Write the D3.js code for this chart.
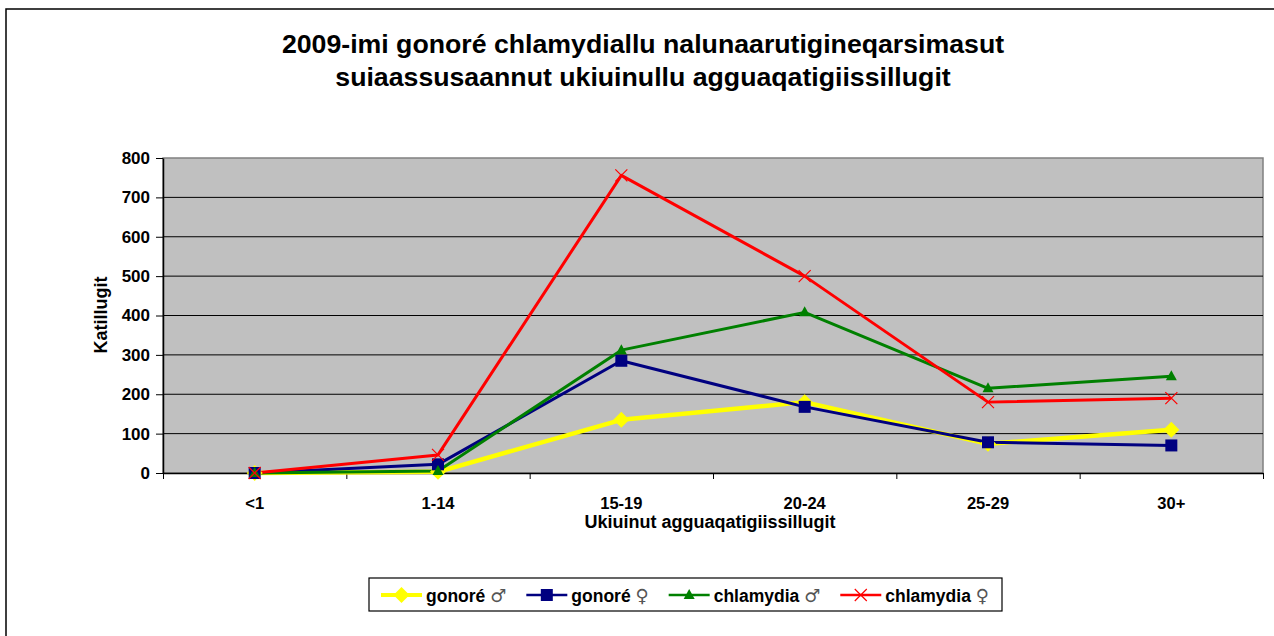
<!DOCTYPE html>
<html>
<head>
<meta charset="utf-8">
<script src="https://cdn.jsdelivr.net/npm/d3@7"></script>
<style>
  body { margin: 0; background: #fff; }
  svg { display: block; font-family: "Liberation Sans", Arial, sans-serif; }
</style>
</head>
<body>
<div id="chart"></div>
<script>
// data
const categories = ["<1", "1-14", "15-19", "20-24", "25-29", "30+"];
const gonoreMale = [0, 3, 135, 180, 74, 110];
const gonoreFemale = [0, 22, 285, 168, 78, 70];
const chlamydiaMale = [0, 5, 312, 408, 215, 246];
const chlamydiaFemale = [0, 46, 756, 500, 180, 190];
const yTicks = [0, 100, 200, 300, 400, 500, 600, 700, 800];
const seriesNames = ["gonoré", "gonoré", "chlamydia", "chlamydia"];
const seriesSigns = ["♂", "♀", "♂", "♀"];

const series = [
    { values: gonoreMale, color: "#ffff00", width: 4.5, marker: "diamond" },
    { values: gonoreFemale, color: "#000080", width: 3, marker: "square" },
    { values: chlamydiaMale, color: "#008000", width: 3, marker: "triangle" },
    { values: chlamydiaFemale, color: "#ff0000", width: 3, marker: "cross" }
];

const W = 1274, H = 636;
const plotLeft = 163, plotRight = 1263, plotTop = 158, plotBottom = 473;

const svg = d3.select("#chart").append("svg")
    .attr("width", W)
    .attr("height", H);

// outer chart border
svg.append("rect")
    .attr("x", 6).attr("y", 9)
    .attr("width", W + 20).attr("height", H + 20)
    .style("fill", "#fff")
    .style("stroke", "#000")
    .style("stroke-width", 1.5);

// title
const title = svg.append("text")
    .attr("text-anchor", "middle")
    .style("font-size", "26.7px")
    .style("font-weight", "bold");
title.append("tspan").attr("x", 643).attr("y", 53)
    .text("2009-imi gonoré chlamydiallu nalunaarutigineqarsimasut");
title.append("tspan").attr("x", 643).attr("y", 86)
    .text("suiaassusaannut ukiuinullu agguaqatigiissillugit");

// scales
const x = d3.scaleBand(categories, [plotLeft, plotRight]);
const xEdge = d3.scaleLinear([0, categories.length], [plotLeft, plotRight]);
const y = d3.scaleLinear([0, 800], [plotBottom, plotTop]);
const cx = d => x(d) + x.bandwidth() / 2;

// plot area
svg.append("rect")
    .attr("x", plotLeft).attr("y", plotTop)
    .attr("width", plotRight - plotLeft).attr("height", plotBottom - plotTop)
    .style("fill", "#c0c0c0")
    .style("stroke", "#808080")
    .style("stroke-width", 1.5);

// horizontal grid
svg.selectAll("line.grid")
    .data(yTicks.filter(d => d > 0 && d < 800))
    .enter()
    .append("line")
    .attr("class", "grid")
    .attr("x1", plotLeft).attr("x2", plotRight)
    .attr("y1", d => y(d)).attr("y2", d => y(d))
    .style("stroke", "#000")
    .style("stroke-width", 1);

// y axis
const yAxis = svg.append("g")
    .attr("transform", `translate(${plotLeft},0)`)
    .call(d3.axisLeft(y).tickValues(yTicks).tickSize(7).tickPadding(6).tickSizeOuter(0));
yAxis.select(".domain").style("stroke", "#000").style("stroke-width", 1.5);
yAxis.selectAll("text")
    .style("font-size", "17px")
    .style("font-weight", "bold")
    .style("font-family", "Liberation Sans, Arial, sans-serif")
    .style("fill", "#000");

// x axis: boundary ticks
const xTicksAxis = svg.append("g")
    .attr("transform", `translate(0,${plotBottom})`)
    .call(d3.axisBottom(xEdge).ticks(categories.length).tickFormat("").tickSize(6).tickSizeOuter(0));
xTicksAxis.select(".domain").style("stroke", "#000").style("stroke-width", 1.5);

// x axis: category labels
const xAxis = svg.append("g")
    .attr("transform", `translate(0,${plotBottom})`)
    .call(d3.axisBottom(x).tickSize(0).tickPadding(24));
xAxis.select(".domain").remove();
xAxis.selectAll("text")
    .style("font-size", "16.5px")
    .style("font-weight", "bold")
    .style("font-family", "Liberation Sans, Arial, sans-serif")
    .style("fill", "#000");

// axis titles
svg.append("text")
    .attr("x", (plotLeft + plotRight) / 2 - 3).attr("y", 528)
    .attr("text-anchor", "middle")
    .style("font-size", "18px")
    .style("font-weight", "bold")
    .text("Ukiuinut agguaqatigiissillugit");

svg.append("text")
    .attr("transform", "translate(107,315) rotate(-90)")
    .attr("text-anchor", "middle")
    .style("font-size", "18px")
    .style("font-weight", "bold")
    .text("Katillugit");

// marker drawing
function drawMarker(g, type, color) {
    if (type === "diamond") {
        g.append("path").attr("d", "M0,-8L8,0L0,8L-8,0Z").style("fill", color);
    } else if (type === "square") {
        g.append("rect").attr("x", -6).attr("y", -6).attr("width", 12).attr("height", 12).style("fill", color);
    } else if (type === "triangle") {
        g.append("path").attr("d", "M0,-6L5.5,4L-5.5,4Z").style("fill", color);
    } else {
        g.append("path").attr("d", "M-6,-6L6,6M-6,6L6,-6")
            .style("stroke", color).style("stroke-width", 1.2).style("fill", "none");
    }
}

const line = d3.line()
    .x((d, i) => cx(categories[i]))
    .y(d => y(d));

series.forEach(s => {
    svg.append("path")
        .datum(s.values)
        .attr("d", line)
        .style("fill", "none")
        .style("stroke", s.color)
        .style("stroke-width", s.width)
        .style("stroke-linejoin", "round");
});

series.forEach(s => {
    svg.selectAll(null)
        .data(s.values)
        .enter()
        .append("g")
        .attr("transform", (d, i) => `translate(${cx(categories[i])},${y(d)})`)
        .each(function() { drawMarker(d3.select(this), s.marker, s.color); });
});

// legend
const legend = svg.append("g");
legend.append("rect")
    .attr("x", 369).attr("y", 578)
    .attr("width", 633).attr("height", 33)
    .style("fill", "#fff")
    .style("stroke", "#000")
    .style("stroke-width", 1.2);

let lx = 381;
series.forEach((s, i) => {
    const item = legend.append("g").attr("transform", `translate(${lx},595)`);
    item.append("line")
        .attr("x1", 0).attr("x2", 41)
        .style("stroke", s.color)
        .style("stroke-width", s.width === 4.5 ? 4 : 2.5);
    const m = item.append("g").attr("transform", "translate(20.5,0)");
    drawMarker(m, s.marker, s.color);
    const t = item.append("text")
        .attr("x", 45).attr("y", 6.5)
        .style("font-size", "17.5px");
    t.append("tspan").style("font-weight", "bold").text(seriesNames[i] + " ");
    t.append("tspan")
        .style("font-family", "DejaVu Sans, sans-serif")
        .style("font-size", "18px")
        .style("fill", "#555")
        .text(seriesSigns[i]);
    lx += 45 + t.node().getComputedTextLength() + 20;
});
</script>
</body>
</html>
